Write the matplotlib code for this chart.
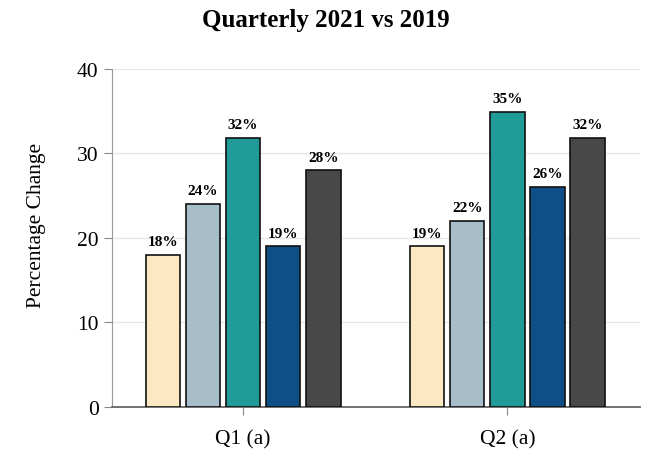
import numpy as np
from matplotlib import pyplot as plt

# ----- data -----
quarters = ["Q1 (a)", "Q2 (a)"]
series_colors = ["#FDE8C4", "#A7BDC9", "#1F9B98", "#0E4F87", "#484848"]
q1_values = [18, 24, 31.8, 19, 28]
q2_values = [19, 22, 34.9, 26, 31.8]
y_ticks = [0, 10, 20, 30, 40]

plt.rcParams["font.family"] = ["Liberation Serif", "DejaVu Serif"]

fig, ax = plt.subplots(figsize=(6.5, 4.6), dpi=100)
fig.subplots_adjust(left=0.172, right=0.985, top=0.848, bottom=0.113)

values = np.array([q1_values, q2_values])
x = np.arange(len(quarters))
n = values.shape[1]
pitch = 0.152
width = 0.13

for i in range(n):
    pos = x + (i - (n - 1) / 2) * pitch
    bars = ax.bar(pos, values[:, i], width=width, color=series_colors[i],
                  edgecolor="#111111", linewidth=1.2, zorder=3)
    for b, v in zip(bars, values[:, i]):
        ax.text(b.get_x() + b.get_width() / 2, v + 0.8, f"{v:.0f}%",
                ha="center", va="bottom", fontsize=11, fontweight="bold")

ax.set_xlim(-0.497, 1.503)
ax.set_ylim(0, 40)
ax.set_yticks(y_ticks)
ax.set_xticks(x)
ax.set_xticklabels(quarters)
ax.tick_params(axis="both", labelsize=15.5, color="#888888", length=6)
ax.tick_params(axis="x", pad=10)
ax.grid(axis="y", color="#e6e6e6", linewidth=1, zorder=0)

for side in ("top", "right"):
    ax.spines[side].set_visible(False)
ax.spines["left"].set_color("#999999")
ax.spines["bottom"].set_color("#666666")
ax.spines["bottom"].set_linewidth(1.3)

ax.set_ylabel("Percentage Change", fontsize=15.5, labelpad=22, y=0.54)
fig.suptitle("Quarterly 2021 vs 2019", fontsize=18, fontweight="bold", x=0.502, y=0.98)

fig.savefig("out.png")
